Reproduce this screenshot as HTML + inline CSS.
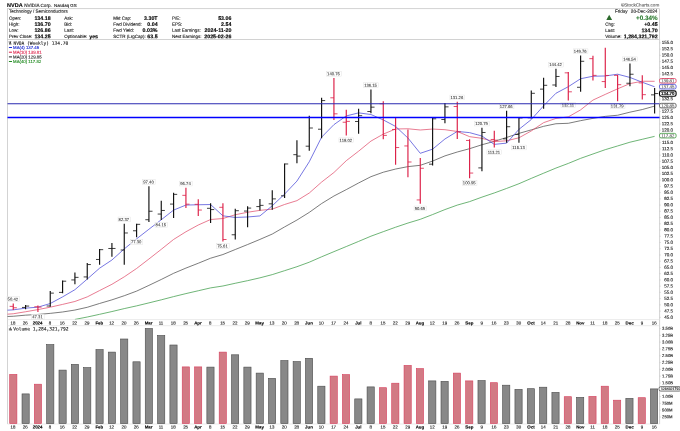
<!DOCTYPE html>
<html lang="en"><head><meta charset="utf-8"><title>NVDA NVIDIA Corp. weekly chart</title>
<style>html,body{margin:0;padding:0;background:#fff;}body{width:680px;height:431px;overflow:hidden;}svg{display:block;position:absolute;left:0;top:0;}text{font-family:'Liberation Sans', sans-serif;font-size:4.5px;color:#1a1a1a;fill:currentColor;stroke:currentColor;stroke-width:0.12px;text-rendering:geometricPrecision;}.b{font-weight:bold;}.m{font-family:'DejaVu Sans Mono', 'Liberation Mono', monospace;}</style></head><body>
<svg width="680" height="431" viewBox="0 0 680 431" role="img" aria-label="NVDA weekly price and volume chart">
<rect x="0" y="0" width="680" height="431" fill="#ffffff"/>
<defs><clipPath id="cp"><rect x="7.5" y="39.4" width="652.1" height="280.20000000000005"/></clipPath></defs>
<g fill="none" stroke="#c0c0c0" stroke-width="0.7">
<rect x="7.4" y="8.7" width="652.2" height="30.7"/>
<path d="M7.5 39.4 V424.0 M659.6 39.4 V424.0"/>
<path d="M7.5 319.6 H659.6 M7.5 325.7 H659.6 M7.5 424 H659.6" stroke="#e2e2e2"/>
</g>
<text x="7.1" y="6.9" transform="rotate(0.03 7.1 6.9)" class="b" style="font-size:5.5px;color:#000">NVDA</text>
<text x="24.2" y="6.9" transform="rotate(0.03 24.2 6.9)" style="font-size:4.6px">NVIDIA Corp.</text>
<text x="54" y="6.9" transform="rotate(0.03 54 6.9)" style="font-size:4.4px">Nasdaq GS</text>
<text x="620.9" y="6.4" transform="rotate(0.03 620.9 6.4)" style="font-size:4.6px;color:#666">©StockCharts.com</text>
<text x="8.9" y="12.7" transform="rotate(0.03 8.9 12.7)">Technology / Semiconductors</text>
<text x="8.9" y="19.7" transform="rotate(0.03 8.9 19.7)">Open:</text>
<text x="50.6" y="20" transform="rotate(0.03 50.6 20)" class="b" text-anchor="end" style="font-size:5.3px;color:#000">134.18</text>
<text x="8.9" y="25.7" transform="rotate(0.03 8.9 25.7)">High:</text>
<text x="50.6" y="26" transform="rotate(0.03 50.6 26)" class="b" text-anchor="end" style="font-size:5.3px;color:#000">136.70</text>
<text x="8.9" y="31.8" transform="rotate(0.03 8.9 31.8)">Low:</text>
<text x="50.6" y="32.1" transform="rotate(0.03 50.6 32.1)" class="b" text-anchor="end" style="font-size:5.3px;color:#000">126.86</text>
<text x="8.9" y="38" transform="rotate(0.03 8.9 38)">Prev Close:</text>
<text x="50.6" y="38.3" transform="rotate(0.03 50.6 38.3)" class="b" text-anchor="end" style="font-size:5.3px;color:#000">134.25</text>
<text x="64.2" y="19.7" transform="rotate(0.03 64.2 19.7)">Ask:</text>
<text x="64.2" y="25.7" transform="rotate(0.03 64.2 25.7)">Bid:</text>
<text x="64.2" y="31.8" transform="rotate(0.03 64.2 31.8)">Last:</text>
<text x="64.2" y="38" transform="rotate(0.03 64.2 38)">Optionable:</text>
<text x="89.2" y="38.3" transform="rotate(0.03 89.2 38.3)" class="b" style="font-size:5.3px;color:#000">yes</text>
<text x="113.3" y="19.7" transform="rotate(0.03 113.3 19.7)">Mkt Cap:</text>
<text x="157.6" y="20" transform="rotate(0.03 157.6 20)" class="b" text-anchor="end" style="font-size:5.3px;color:#000">3.30T</text>
<text x="113.3" y="25.7" transform="rotate(0.03 113.3 25.7)">Fwd Dividend:</text>
<text x="157.6" y="26" transform="rotate(0.03 157.6 26)" class="b" text-anchor="end" style="font-size:5.3px;color:#000">0.04</text>
<text x="113.3" y="31.8" transform="rotate(0.03 113.3 31.8)">Fwd Yield:</text>
<text x="157.6" y="32.1" transform="rotate(0.03 157.6 32.1)" class="b" text-anchor="end" style="font-size:5.3px;color:#000">0.03%</text>
<text x="113.3" y="38" transform="rotate(0.03 113.3 38)">SCTR (LrgCap):</text>
<text x="157.6" y="38.3" transform="rotate(0.03 157.6 38.3)" class="b" text-anchor="end" style="font-size:5.3px;color:#000">63.5</text>
<text x="171.9" y="19.7" transform="rotate(0.03 171.9 19.7)">P/E:</text>
<text x="231.4" y="20" transform="rotate(0.03 231.4 20)" class="b" text-anchor="end" style="font-size:5.3px;color:#000">53.06</text>
<text x="171.9" y="25.7" transform="rotate(0.03 171.9 25.7)">EPS:</text>
<text x="231.4" y="26" transform="rotate(0.03 231.4 26)" class="b" text-anchor="end" style="font-size:5.3px;color:#000">2.54</text>
<text x="171.9" y="31.8" transform="rotate(0.03 171.9 31.8)">Last Earnings:</text>
<text x="231.4" y="32.1" transform="rotate(0.03 231.4 32.1)" class="b" text-anchor="end" style="font-size:5.3px;color:#000">2024-11-20</text>
<text x="171.9" y="38" transform="rotate(0.03 171.9 38)">Next Earnings:</text>
<text x="231.4" y="38.3" transform="rotate(0.03 231.4 38.3)" class="b" text-anchor="end" style="font-size:5.3px;color:#000">2025-02-26</text>
<text x="614.9" y="12.7" transform="rotate(0.03 614.9 12.7)" style="font-size:4.6px">Friday</text>
<text x="657.4" y="12.7" transform="rotate(0.03 657.4 12.7)" text-anchor="end" style="font-size:4.6px">20-Dec-2024</text>
<path d="M606.3 20.1 L609.2 14.8 L612.1 20.1 Z" fill="#2c6a2c"/>
<text x="657.6" y="20.1" transform="rotate(0.03 657.6 20.1)" class="b" text-anchor="end" style="font-size:6.3px;color:#2e7d32">+0.34%</text>
<text x="605.3" y="25.7" transform="rotate(0.03 605.3 25.7)">Chg:</text>
<text x="657.6" y="26" transform="rotate(0.03 657.6 26)" class="b" text-anchor="end" style="font-size:5.3px;color:#000">+0.45</text>
<text x="605.3" y="32" transform="rotate(0.03 605.3 32)">Last:</text>
<text x="657.6" y="32.3" transform="rotate(0.03 657.6 32.3)" class="b" text-anchor="end" style="font-size:5.3px;color:#000">134.70</text>
<text x="605.3" y="38" transform="rotate(0.03 605.3 38)">Volume:</text>
<text x="657.6" y="38.3" transform="rotate(0.03 657.6 38.3)" class="b" text-anchor="end" style="font-size:5.3px;color:#000">1,284,321,792</text>
<path d="M9 41.3 L9.9 44.6 L10.8 41.3 M10.2 41.3 L11.1 44.6" fill="none" stroke="#222" stroke-width="0.6"/>
<text x="13.4" y="44.7" transform="rotate(0.03 13.4 44.7)" class="m" style="font-size:4.55px">NVDA (Weekly) 134.70</text>
<rect x="8.9" y="47" width="3.1" height="1" fill="#1a2ad0"/>
<text x="13.1" y="49" transform="rotate(0.03 13.1 49)" style="font-size:4.3px;color:#1a2ad0">MA(4) 137.45</text>
<rect x="8.9" y="51.7" width="3.1" height="1" fill="#dc1e46"/>
<text x="13.1" y="53.7" transform="rotate(0.03 13.1 53.7)" style="font-size:4.3px;color:#dc1e46">MA(10) 139.81</text>
<rect x="8.9" y="56.4" width="3.1" height="1" fill="#222222"/>
<text x="13.1" y="58.4" transform="rotate(0.03 13.1 58.4)" style="font-size:4.3px;color:#222222">MA(20) 129.85</text>
<rect x="8.9" y="61" width="3.1" height="1" fill="#228b22"/>
<text x="13.1" y="63" transform="rotate(0.03 13.1 63)" style="font-size:4.3px;color:#228b22">MA(40) 117.82</text>
<g clip-path="url(#cp)" fill="none" stroke-linejoin="round" stroke-width="0.75">
<polyline points="74.92,319.43 87.25,317.03 99.59,314.32 111.92,311.56 124.26,308.6 136.59,305.89 148.92,302.89 161.26,299.83 173.59,296.61 185.93,293.6 198.26,290.75 210.59,287.9 222.93,285.99 235.26,283.28 247.6,280.66 259.93,277.84 272.26,274.62 284.6,270.68 296.93,266.71 309.27,262.19 321.6,256.81 333.93,251.65 346.27,246.54 358.6,241.41 370.94,236.2 383.27,231.68 395.6,227.21 407.94,223.05 420.27,219.32 432.61,214.56 444.94,209.57 457.27,205.1 469.61,201.61 481.94,197.14 494.28,192.96 506.61,188.43 518.94,183.73 531.28,178.38 543.61,173.19 555.95,168.07 568.28,163.43 580.61,158.35 592.95,153.99 605.28,149.66 617.62,145.96 629.95,142.21 642.28,139.29 654.62,136.37" stroke="#3f9c4a"/>
<polyline points="-11.42,317.04 0.92,316.77 13.25,316.25 25.58,315.17 37.92,314.45 50.25,313.36 62.59,311.99 74.92,310.06 87.25,307.29 99.59,303.48 111.92,299.85 124.26,295.72 136.59,291.13 148.92,285.38 161.26,279.47 173.59,273.32 185.93,268.08 198.26,263.25 210.59,258.21 222.93,254.54 235.26,249.52 247.6,244.54 259.93,239.42 272.26,234.06 284.6,226.91 296.93,220.05 309.27,212.39 321.6,203.56 333.93,196.02 346.27,189.61 358.6,182.97 370.94,176.68 383.27,172.23 395.6,169.04 407.94,166.62 420.27,165.32 432.61,161.05 444.94,155.89 457.27,152 469.61,148.68 481.94,144.76 494.28,141.37 506.61,137.44 518.94,133.39 531.28,129.86 543.61,126.32 555.95,123.74 568.28,123.3 580.61,120.67 592.95,118.37 605.28,116.36 617.62,115.24 629.95,112.18 642.28,109.54 654.62,106.12" stroke="#505050"/>
<polyline points="-11.42,315.4 0.92,314.62 13.25,313.78 25.58,311.75 37.92,309.6 50.25,307.18 62.59,304.4 74.92,301.47 87.25,296.89 99.59,290.56 111.92,284.3 124.26,276.83 136.59,268.49 148.92,259 161.26,249.34 173.59,239.46 185.93,231.76 198.26,225.03 210.59,219.53 222.93,218.52 235.26,214.74 247.6,212.25 259.93,210.36 272.26,209.12 284.6,204.47 296.93,200.65 309.27,193.03 321.6,182.08 333.93,172.51 346.27,160.7 358.6,151.19 370.94,141.1 383.27,134.1 395.6,128.97 407.94,128.77 420.27,129.99 432.61,129.06 444.94,129.69 457.27,131.49 469.61,136.65 481.94,138.33 494.28,141.64 506.61,140.77 518.94,137.81 531.28,130.94 543.61,122.65 555.95,118.42 568.28,116.91 580.61,109.86 592.95,100.09 605.28,94.39 617.62,88.84 629.95,83.59 642.28,81.26 654.62,81.29" stroke="#e0506e"/>
<polyline points="-11.42,310.26 0.92,310.52 13.25,309.87 25.58,308.15 37.92,307.16 50.25,303.53 62.59,296.88 74.92,289.7 87.25,279.06 99.59,268.19 111.92,260.01 124.26,248.91 136.59,238.86 148.92,229.25 161.26,219.75 173.59,210.1 185.93,205.06 198.26,204.76 210.59,204.54 222.93,215.83 235.26,217.46 247.6,216.98 259.93,215.92 272.26,205.77 284.6,194.08 296.93,181.09 309.27,161.74 321.6,137.17 333.93,124.63 346.27,115.95 358.6,112.87 370.94,114.52 383.27,119.91 395.6,126.45 407.94,138.02 420.27,153.3 432.61,149.15 444.94,138.98 457.27,131.43 469.61,132.63 481.94,136.04 494.28,144.38 506.61,143.12 518.94,129.34 531.28,119.55 543.61,105.82 555.95,93.26 568.28,86.72 580.61,78.72 592.95,76.24 605.28,75.98 617.62,74.21 629.95,77.44 642.28,82.26 654.62,86.79" stroke="#4a4ad8"/>
</g>
<path d="M13.25 303.38 V310.07 M37.92 305.55 V312.04 M185.93 187.81 V208.02 M198.26 199.14 V216 M222.93 203.13 V241.43 M333.93 77.98 V119.95 M346.27 109.82 V135.62 M383.27 101.33 V139.16 M395.6 117.8 V164.86 M407.94 129.53 V177.33 M420.27 157.97 V203.8 M457.27 101.68 V138.91 M469.61 139.26 V178.2 M494.28 130.77 V147.62 M568.28 72.04 V100.46 M592.95 55.8 V80.58 M605.28 47.71 V87.89 M617.62 74.76 V101.26 M642.28 75.33 V99.39" stroke="#dc1e46" stroke-width="1.15" fill="none"/>
<path d="M25.58 304.92 V309.32 M50.25 291.08 V306.7 M62.59 280.47 V293.35 M74.92 272.49 V284.37 M87.25 263.01 V279.38 M99.59 249.04 V264.66 M111.92 243.05 V256.67 M124.26 223.66 V264.78 M136.59 223.84 V237.21 M148.92 186.16 V221.94 M161.26 200.63 V220.12 M173.59 192.7 V218 M210.59 203.13 V222.99 M235.26 208.87 V239.46 M247.6 206.37 V227.23 M259.93 198.89 V210.52 M272.26 190.15 V209.77 M284.6 163.51 V198.04 M296.93 140.25 V163.36 M309.27 115.8 V150.63 M321.6 97.74 V138.16 M358.6 108.82 V133.67 M370.94 89.48 V113.21 M432.61 117.3 V165.6 M444.94 102.95 V123.19 M481.94 127.8 V171.34 M506.61 110.66 V142.65 M518.94 117.3 V142.83 M531.28 90.6 V118.45 M543.61 77.65 V108.87 M555.95 68.85 V87.11 M580.61 55.52 V91.83 M629.95 63.56 V86.21 M654.62 88.11 V113.56" stroke="#111111" stroke-width="1.15" fill="none"/>
<path d="M9.65 306.37 H13.25 M13.25 307.79 H16.85 M34.32 306.77 H37.92 M37.92 307.12 H41.52 M182.33 195.34 H185.93 M185.93 204.18 H189.53 M194.66 204.33 H198.26 M198.26 210.04 H201.86 M219.33 207.32 H222.93 M222.93 239.51 H226.53 M330.33 97.81 H333.93 M333.93 113.83 H337.53 M342.67 122.24 H346.27 M346.27 121.39 H349.87 M379.67 103.78 H383.27 M383.27 135.39 H386.87 M392 129.48 H395.6 M395.6 147.54 H399.2 M404.34 145.94 H407.94 M407.94 161.99 H411.54 M416.67 199.94 H420.27 M420.27 168.27 H423.87 M453.67 106.52 H457.27 M457.27 131.8 H460.87 M466.01 140.45 H469.61 M469.61 173.06 H473.21 M490.68 139.46 H494.28 M494.28 140.21 H497.88 M564.68 72.84 H568.28 M568.28 91.8 H571.88 M589.35 58.67 H592.95 M592.95 75.38 H596.55 M601.68 81.57 H605.28 M605.28 75.46 H608.88 M614.02 75.36 H617.62 M617.62 84.69 H621.22 M638.68 82.89 H642.28 M642.28 94.67 H645.88" stroke="#dc1e46" stroke-width="0.8" fill="none"/>
<path d="M21.98 307.44 H25.58 M25.58 306.07 H29.18 M46.65 306 H50.25 M50.25 293.12 H53.85 M58.99 292.4 H62.59 M62.59 281.2 H66.19 M71.32 279.93 H74.92 M74.92 277.36 H78.52 M83.65 276.93 H87.25 M87.25 264.56 H90.85 M95.99 259.47 H99.59 M99.59 249.66 H103.19 M108.32 248.49 H111.92 M111.92 248.46 H115.52 M120.66 249.99 H124.26 M124.26 232.97 H127.86 M132.99 230.77 H136.59 M136.59 224.34 H140.19 M145.32 219.72 H148.92 M148.92 211.24 H152.52 M157.66 214.06 H161.26 M161.26 210.46 H164.86 M169.99 204.08 H173.59 M173.59 194.37 H177.19 M206.99 208.32 H210.59 M210.59 209.59 H214.19 M231.66 234.77 H235.26 M235.26 210.71 H238.86 M244 211.06 H247.6 M247.6 208.09 H251.2 M256.33 206.57 H259.93 M259.93 205.37 H263.53 M268.66 203.83 H272.26 M272.26 198.89 H275.86 M281 195.84 H284.6 M284.6 163.98 H288.2 M293.33 154.68 H296.93 M296.93 156.1 H300.53 M305.67 146.19 H309.27 M309.27 128 H312.87 M318 129.23 H321.6 M321.6 100.58 H325.2 M355 121.49 H358.6 M358.6 115.68 H362.2 M367.34 111.51 H370.94 M370.94 107.17 H374.54 M429.01 164.16 H432.61 M432.61 118.8 H436.21 M441.34 119.5 H444.94 M444.94 106.85 H448.54 M478.34 167.9 H481.94 M481.94 132.47 H485.54 M503.01 138.83 H506.61 M506.61 126.73 H510.21 M515.34 134.47 H518.94 M518.94 117.95 H522.54 M527.68 117.77 H531.28 M531.28 93.3 H534.88 M540.01 89.13 H543.61 M543.61 85.31 H547.21 M552.35 84.99 H555.95 M555.95 76.48 H559.55 M577.01 87.29 H580.61 M580.61 61.29 H584.21 M626.35 83.24 H629.95 M629.95 74.24 H633.55 M651.02 94.85 H654.62 M654.62 93.55 H658.22" stroke="#111111" stroke-width="0.8" fill="none"/>
<rect x="7.03" y="296.73" width="12.45" height="4.8" fill="#ffffff" fill-opacity="0.92" stroke="#dddddd" stroke-width="0.4"/>
<text x="12.85" y="300.63" transform="rotate(0.03 12.85 300.63)" text-anchor="middle" style="font-size:4.2px;color:#222;stroke-width:0.04px">50.42</text>
<rect x="31.69" y="314.29" width="12.45" height="4.8" fill="#ffffff" fill-opacity="0.92" stroke="#dddddd" stroke-width="0.4"/>
<text x="37.52" y="318.19" transform="rotate(0.03 37.52 318.19)" text-anchor="middle" style="font-size:4.2px;color:#222;stroke-width:0.04px">47.31</text>
<rect x="118.03" y="217.01" width="12.45" height="4.8" fill="#ffffff" fill-opacity="0.92" stroke="#dddddd" stroke-width="0.4"/>
<text x="123.86" y="220.91" transform="rotate(0.03 123.86 220.91)" text-anchor="middle" style="font-size:4.2px;color:#222;stroke-width:0.04px">82.37</text>
<rect x="130.37" y="239.46" width="12.45" height="4.8" fill="#ffffff" fill-opacity="0.92" stroke="#dddddd" stroke-width="0.4"/>
<text x="136.19" y="243.36" transform="rotate(0.03 136.19 243.36)" text-anchor="middle" style="font-size:4.2px;color:#222;stroke-width:0.04px">77.30</text>
<rect x="142.7" y="179.51" width="12.45" height="4.8" fill="#ffffff" fill-opacity="0.92" stroke="#dddddd" stroke-width="0.4"/>
<text x="148.52" y="183.41" transform="rotate(0.03 148.52 183.41)" text-anchor="middle" style="font-size:4.2px;color:#222;stroke-width:0.04px">97.40</text>
<rect x="155.03" y="222.37" width="12.45" height="4.8" fill="#ffffff" fill-opacity="0.92" stroke="#dddddd" stroke-width="0.4"/>
<text x="160.86" y="226.27" transform="rotate(0.03 160.86 226.27)" text-anchor="middle" style="font-size:4.2px;color:#222;stroke-width:0.04px">84.15</text>
<rect x="179.7" y="181.16" width="12.45" height="4.8" fill="#ffffff" fill-opacity="0.92" stroke="#dddddd" stroke-width="0.4"/>
<text x="185.53" y="185.06" transform="rotate(0.03 185.53 185.06)" text-anchor="middle" style="font-size:4.2px;color:#222;stroke-width:0.04px">96.74</text>
<rect x="216.7" y="243.68" width="12.45" height="4.8" fill="#ffffff" fill-opacity="0.92" stroke="#dddddd" stroke-width="0.4"/>
<text x="222.53" y="247.58" transform="rotate(0.03 222.53 247.58)" text-anchor="middle" style="font-size:4.2px;color:#222;stroke-width:0.04px">75.61</text>
<rect x="326.58" y="71.33" width="14.7" height="4.8" fill="#ffffff" fill-opacity="0.92" stroke="#dddddd" stroke-width="0.4"/>
<text x="333.53" y="75.23" transform="rotate(0.03 333.53 75.23)" text-anchor="middle" style="font-size:4.2px;color:#222;stroke-width:0.04px">140.76</text>
<rect x="338.92" y="137.87" width="14.7" height="4.8" fill="#ffffff" fill-opacity="0.92" stroke="#dddddd" stroke-width="0.4"/>
<text x="345.87" y="141.77" transform="rotate(0.03 345.87 141.77)" text-anchor="middle" style="font-size:4.2px;color:#222;stroke-width:0.04px">118.02</text>
<rect x="363.59" y="82.83" width="14.7" height="4.8" fill="#ffffff" fill-opacity="0.92" stroke="#dddddd" stroke-width="0.4"/>
<text x="370.54" y="86.73" transform="rotate(0.03 370.54 86.73)" text-anchor="middle" style="font-size:4.2px;color:#222;stroke-width:0.04px">136.15</text>
<rect x="414.05" y="206.05" width="12.45" height="4.8" fill="#ffffff" fill-opacity="0.92" stroke="#dddddd" stroke-width="0.4"/>
<text x="419.87" y="209.95" transform="rotate(0.03 419.87 209.95)" text-anchor="middle" style="font-size:4.2px;color:#222;stroke-width:0.04px">90.69</text>
<rect x="449.92" y="95.03" width="14.7" height="4.8" fill="#ffffff" fill-opacity="0.92" stroke="#dddddd" stroke-width="0.4"/>
<text x="456.87" y="98.93" transform="rotate(0.03 456.87 98.93)" text-anchor="middle" style="font-size:4.2px;color:#222;stroke-width:0.04px">131.26</text>
<rect x="462.26" y="180.45" width="14.7" height="4.8" fill="#ffffff" fill-opacity="0.92" stroke="#dddddd" stroke-width="0.4"/>
<text x="469.21" y="184.35" transform="rotate(0.03 469.21 184.35)" text-anchor="middle" style="font-size:4.2px;color:#222;stroke-width:0.04px">100.95</text>
<rect x="474.59" y="121.15" width="14.7" height="4.8" fill="#ffffff" fill-opacity="0.92" stroke="#dddddd" stroke-width="0.4"/>
<text x="481.54" y="125.05" transform="rotate(0.03 481.54 125.05)" text-anchor="middle" style="font-size:4.2px;color:#222;stroke-width:0.04px">120.79</text>
<rect x="486.93" y="149.87" width="14.7" height="4.8" fill="#ffffff" fill-opacity="0.92" stroke="#dddddd" stroke-width="0.4"/>
<text x="493.88" y="153.77" transform="rotate(0.03 493.88 153.77)" text-anchor="middle" style="font-size:4.2px;color:#222;stroke-width:0.04px">113.21</text>
<rect x="499.26" y="104.01" width="14.7" height="4.8" fill="#ffffff" fill-opacity="0.92" stroke="#dddddd" stroke-width="0.4"/>
<text x="506.21" y="107.91" transform="rotate(0.03 506.21 107.91)" text-anchor="middle" style="font-size:4.2px;color:#222;stroke-width:0.04px">127.66</text>
<rect x="511.59" y="145.08" width="14.7" height="4.8" fill="#ffffff" fill-opacity="0.92" stroke="#dddddd" stroke-width="0.4"/>
<text x="518.54" y="148.98" transform="rotate(0.03 518.54 148.98)" text-anchor="middle" style="font-size:4.2px;color:#222;stroke-width:0.04px">115.13</text>
<rect x="548.6" y="62.2" width="14.7" height="4.8" fill="#ffffff" fill-opacity="0.92" stroke="#dddddd" stroke-width="0.4"/>
<text x="555.55" y="66.1" transform="rotate(0.03 555.55 66.1)" text-anchor="middle" style="font-size:4.2px;color:#222;stroke-width:0.04px">144.42</text>
<rect x="560.93" y="102.71" width="14.7" height="4.8" fill="#ffffff" fill-opacity="0.92" stroke="#dddddd" stroke-width="0.4"/>
<text x="567.88" y="106.61" transform="rotate(0.03 567.88 106.61)" text-anchor="middle" style="font-size:4.2px;color:#222;stroke-width:0.04px">132.11</text>
<rect x="573.26" y="48.87" width="14.7" height="4.8" fill="#ffffff" fill-opacity="0.92" stroke="#dddddd" stroke-width="0.4"/>
<text x="580.21" y="52.77" transform="rotate(0.03 580.21 52.77)" text-anchor="middle" style="font-size:4.2px;color:#222;stroke-width:0.04px">149.76</text>
<rect x="610.27" y="103.51" width="14.7" height="4.8" fill="#ffffff" fill-opacity="0.92" stroke="#dddddd" stroke-width="0.4"/>
<text x="617.22" y="107.41" transform="rotate(0.03 617.22 107.41)" text-anchor="middle" style="font-size:4.2px;color:#222;stroke-width:0.04px">131.79</text>
<rect x="622.6" y="56.91" width="14.7" height="4.8" fill="#ffffff" fill-opacity="0.92" stroke="#dddddd" stroke-width="0.4"/>
<text x="629.55" y="60.81" transform="rotate(0.03 629.55 60.81)" text-anchor="middle" style="font-size:4.2px;color:#222;stroke-width:0.04px">146.54</text>
<path d="M7.5 103.75 H659.6" stroke="#2a2ab0" stroke-width="1.15" fill="none"/>
<path d="M7.5 117.6 H659.6" stroke="#0000ff" stroke-width="1.5" fill="none"/>
<path d="M659.6 317.35 h1.2" stroke="#bbb" stroke-width="0.5"/>
<text x="673" y="318.72" transform="rotate(0.03 673 318.72)" text-anchor="end" style="font-size:4.5px">45.0</text>
<path d="M659.6 311.11 h1.2" stroke="#bbb" stroke-width="0.5"/>
<text x="673" y="312.48" transform="rotate(0.03 673 312.48)" text-anchor="end" style="font-size:4.5px">47.5</text>
<path d="M659.6 304.88 h1.2" stroke="#bbb" stroke-width="0.5"/>
<text x="673" y="306.24" transform="rotate(0.03 673 306.24)" text-anchor="end" style="font-size:4.5px">50.0</text>
<path d="M659.6 298.64 h1.2" stroke="#bbb" stroke-width="0.5"/>
<text x="673" y="299.99" transform="rotate(0.03 673 299.99)" text-anchor="end" style="font-size:4.5px">52.5</text>
<path d="M659.6 292.4 h1.2" stroke="#bbb" stroke-width="0.5"/>
<text x="673" y="293.75" transform="rotate(0.03 673 293.75)" text-anchor="end" style="font-size:4.5px">55.0</text>
<path d="M659.6 286.16 h1.2" stroke="#bbb" stroke-width="0.5"/>
<text x="673" y="287.51" transform="rotate(0.03 673 287.51)" text-anchor="end" style="font-size:4.5px">57.5</text>
<path d="M659.6 279.93 h1.2" stroke="#bbb" stroke-width="0.5"/>
<text x="673" y="281.26" transform="rotate(0.03 673 281.26)" text-anchor="end" style="font-size:4.5px">60.0</text>
<path d="M659.6 273.69 h1.2" stroke="#bbb" stroke-width="0.5"/>
<text x="673" y="275.02" transform="rotate(0.03 673 275.02)" text-anchor="end" style="font-size:4.5px">62.5</text>
<path d="M659.6 267.45 h1.2" stroke="#bbb" stroke-width="0.5"/>
<text x="673" y="268.78" transform="rotate(0.03 673 268.78)" text-anchor="end" style="font-size:4.5px">65.0</text>
<path d="M659.6 261.21 h1.2" stroke="#bbb" stroke-width="0.5"/>
<text x="673" y="262.54" transform="rotate(0.03 673 262.54)" text-anchor="end" style="font-size:4.5px">67.5</text>
<path d="M659.6 254.98 h1.2" stroke="#bbb" stroke-width="0.5"/>
<text x="673" y="256.3" transform="rotate(0.03 673 256.3)" text-anchor="end" style="font-size:4.5px">70.0</text>
<path d="M659.6 248.74 h1.2" stroke="#bbb" stroke-width="0.5"/>
<text x="673" y="250.05" transform="rotate(0.03 673 250.05)" text-anchor="end" style="font-size:4.5px">72.5</text>
<path d="M659.6 242.5 h1.2" stroke="#bbb" stroke-width="0.5"/>
<text x="673" y="243.81" transform="rotate(0.03 673 243.81)" text-anchor="end" style="font-size:4.5px">75.0</text>
<path d="M659.6 236.26 h1.2" stroke="#bbb" stroke-width="0.5"/>
<text x="673" y="237.57" transform="rotate(0.03 673 237.57)" text-anchor="end" style="font-size:4.5px">77.5</text>
<path d="M659.6 230.03 h1.2" stroke="#bbb" stroke-width="0.5"/>
<text x="673" y="231.32" transform="rotate(0.03 673 231.32)" text-anchor="end" style="font-size:4.5px">80.0</text>
<path d="M659.6 223.79 h1.2" stroke="#bbb" stroke-width="0.5"/>
<text x="673" y="225.08" transform="rotate(0.03 673 225.08)" text-anchor="end" style="font-size:4.5px">82.5</text>
<path d="M659.6 217.55 h1.2" stroke="#bbb" stroke-width="0.5"/>
<text x="673" y="218.84" transform="rotate(0.03 673 218.84)" text-anchor="end" style="font-size:4.5px">85.0</text>
<path d="M659.6 211.31 h1.2" stroke="#bbb" stroke-width="0.5"/>
<text x="673" y="212.6" transform="rotate(0.03 673 212.6)" text-anchor="end" style="font-size:4.5px">87.5</text>
<path d="M659.6 205.08 h1.2" stroke="#bbb" stroke-width="0.5"/>
<text x="673" y="206.36" transform="rotate(0.03 673 206.36)" text-anchor="end" style="font-size:4.5px">90.0</text>
<path d="M659.6 198.84 h1.2" stroke="#bbb" stroke-width="0.5"/>
<text x="673" y="200.11" transform="rotate(0.03 673 200.11)" text-anchor="end" style="font-size:4.5px">92.5</text>
<path d="M659.6 192.6 h1.2" stroke="#bbb" stroke-width="0.5"/>
<text x="673" y="193.87" transform="rotate(0.03 673 193.87)" text-anchor="end" style="font-size:4.5px">95.0</text>
<path d="M659.6 186.36 h1.2" stroke="#bbb" stroke-width="0.5"/>
<text x="673" y="187.63" transform="rotate(0.03 673 187.63)" text-anchor="end" style="font-size:4.5px">97.5</text>
<path d="M659.6 180.12 h1.2" stroke="#bbb" stroke-width="0.5"/>
<text x="673" y="181.38" transform="rotate(0.03 673 181.38)" text-anchor="end" style="font-size:4.5px">100.0</text>
<path d="M659.6 173.89 h1.2" stroke="#bbb" stroke-width="0.5"/>
<text x="673" y="175.14" transform="rotate(0.03 673 175.14)" text-anchor="end" style="font-size:4.5px">102.5</text>
<path d="M659.6 167.65 h1.2" stroke="#bbb" stroke-width="0.5"/>
<text x="673" y="168.9" transform="rotate(0.03 673 168.9)" text-anchor="end" style="font-size:4.5px">105.0</text>
<path d="M659.6 161.41 h1.2" stroke="#bbb" stroke-width="0.5"/>
<text x="673" y="162.66" transform="rotate(0.03 673 162.66)" text-anchor="end" style="font-size:4.5px">107.5</text>
<path d="M659.6 155.18 h1.2" stroke="#bbb" stroke-width="0.5"/>
<text x="673" y="156.41" transform="rotate(0.03 673 156.41)" text-anchor="end" style="font-size:4.5px">110.0</text>
<path d="M659.6 148.94 h1.2" stroke="#bbb" stroke-width="0.5"/>
<text x="673" y="150.17" transform="rotate(0.03 673 150.17)" text-anchor="end" style="font-size:4.5px">112.5</text>
<path d="M659.6 142.7 h1.2" stroke="#bbb" stroke-width="0.5"/>
<text x="673" y="143.93" transform="rotate(0.03 673 143.93)" text-anchor="end" style="font-size:4.5px">115.0</text>
<path d="M659.6 136.46 h1.2" stroke="#bbb" stroke-width="0.5"/>
<text x="673" y="137.69" transform="rotate(0.03 673 137.69)" text-anchor="end" style="font-size:4.5px">117.5</text>
<path d="M659.6 130.22 h1.2" stroke="#bbb" stroke-width="0.5"/>
<text x="673" y="131.44" transform="rotate(0.03 673 131.44)" text-anchor="end" style="font-size:4.5px">120.0</text>
<path d="M659.6 123.99 h1.2" stroke="#bbb" stroke-width="0.5"/>
<text x="673" y="125.2" transform="rotate(0.03 673 125.2)" text-anchor="end" style="font-size:4.5px">122.5</text>
<path d="M659.6 117.75 h1.2" stroke="#bbb" stroke-width="0.5"/>
<text x="673" y="118.96" transform="rotate(0.03 673 118.96)" text-anchor="end" style="font-size:4.5px">125.0</text>
<path d="M659.6 111.51 h1.2" stroke="#bbb" stroke-width="0.5"/>
<text x="673" y="112.72" transform="rotate(0.03 673 112.72)" text-anchor="end" style="font-size:4.5px">127.5</text>
<path d="M659.6 105.28 h1.2" stroke="#bbb" stroke-width="0.5"/>
<text x="673" y="106.47" transform="rotate(0.03 673 106.47)" text-anchor="end" style="font-size:4.5px">130.0</text>
<path d="M659.6 99.04 h1.2" stroke="#bbb" stroke-width="0.5"/>
<text x="673" y="100.23" transform="rotate(0.03 673 100.23)" text-anchor="end" style="font-size:4.5px">132.5</text>
<path d="M659.6 92.8 h1.2" stroke="#bbb" stroke-width="0.5"/>
<text x="673" y="93.99" transform="rotate(0.03 673 93.99)" text-anchor="end" style="font-size:4.5px">135.0</text>
<path d="M659.6 86.56 h1.2" stroke="#bbb" stroke-width="0.5"/>
<text x="673" y="87.75" transform="rotate(0.03 673 87.75)" text-anchor="end" style="font-size:4.5px">137.5</text>
<path d="M659.6 80.33 h1.2" stroke="#bbb" stroke-width="0.5"/>
<text x="673" y="81.5" transform="rotate(0.03 673 81.5)" text-anchor="end" style="font-size:4.5px">140.0</text>
<path d="M659.6 74.09 h1.2" stroke="#bbb" stroke-width="0.5"/>
<text x="673" y="75.26" transform="rotate(0.03 673 75.26)" text-anchor="end" style="font-size:4.5px">142.5</text>
<path d="M659.6 67.85 h1.2" stroke="#bbb" stroke-width="0.5"/>
<text x="673" y="69.02" transform="rotate(0.03 673 69.02)" text-anchor="end" style="font-size:4.5px">145.0</text>
<path d="M659.6 61.61 h1.2" stroke="#bbb" stroke-width="0.5"/>
<text x="673" y="62.78" transform="rotate(0.03 673 62.78)" text-anchor="end" style="font-size:4.5px">147.5</text>
<path d="M659.6 55.38 h1.2" stroke="#bbb" stroke-width="0.5"/>
<text x="673" y="56.53" transform="rotate(0.03 673 56.53)" text-anchor="end" style="font-size:4.5px">150.0</text>
<path d="M659.6 49.14 h1.2" stroke="#bbb" stroke-width="0.5"/>
<text x="673" y="50.29" transform="rotate(0.03 673 50.29)" text-anchor="end" style="font-size:4.5px">152.5</text>
<path d="M659.6 42.9 h1.2" stroke="#bbb" stroke-width="0.5"/>
<text x="673" y="44.05" transform="rotate(0.03 673 44.05)" text-anchor="end" style="font-size:4.5px">155.0</text>
<rect x="659.5" y="78.5" width="16.6" height="4.6" rx="1.7" ry="1.7" fill="#fff" stroke="#dc1e46" stroke-width="0.7"/>
<text x="667.8" y="82.35" transform="rotate(0.03 667.8 82.35)" text-anchor="middle"  style="font-size:4.4px;color:#333;stroke-width:0.03px">139.81</text>
<rect x="659.5" y="84.39" width="16.6" height="4.6" rx="1.7" ry="1.7" fill="#fff" stroke="#2a2fd0" stroke-width="0.7"/>
<text x="667.8" y="88.24" transform="rotate(0.03 667.8 88.24)" text-anchor="middle"  style="font-size:4.4px;color:#333;stroke-width:0.03px">137.45</text>
<rect x="659.5" y="103.35" width="16.6" height="4.6" rx="1.7" ry="1.7" fill="#fff" stroke="#333333" stroke-width="0.7"/>
<text x="667.8" y="107.2" transform="rotate(0.03 667.8 107.2)" text-anchor="middle"  style="font-size:4.4px;color:#333;stroke-width:0.03px">129.85</text>
<rect x="659.5" y="133.36" width="16.6" height="4.6" rx="1.7" ry="1.7" fill="#fff" stroke="#228b22" stroke-width="0.7"/>
<text x="667.8" y="137.21" transform="rotate(0.03 667.8 137.21)" text-anchor="middle"  style="font-size:4.4px;color:#333;stroke-width:0.03px">117.82</text>
<rect x="659.5" y="90.85" width="16.6" height="5.4" rx="1.7" ry="1.7" fill="#fff" stroke="#000000" stroke-width="1.1"/>
<text x="667.8" y="95.1" transform="rotate(0.03 667.8 95.1)" text-anchor="middle" class="b" style="font-size:4.4px;color:#000;stroke-width:0.12px">134.70</text>
<text x="12.95" y="324.5" transform="rotate(0.03 12.95 324.5)" text-anchor="middle"  style="font-size:4.4px;color:#1a1a1a">18</text>
<text x="25.28" y="324.5" transform="rotate(0.03 25.28 324.5)" text-anchor="middle"  style="font-size:4.4px;color:#1a1a1a">26</text>
<text x="37.62" y="324.5" transform="rotate(0.03 37.62 324.5)" text-anchor="middle" class="b" style="font-size:4.4px;color:#000">2024</text>
<text x="49.95" y="324.5" transform="rotate(0.03 49.95 324.5)" text-anchor="middle"  style="font-size:4.4px;color:#1a1a1a">8</text>
<text x="62.29" y="324.5" transform="rotate(0.03 62.29 324.5)" text-anchor="middle"  style="font-size:4.4px;color:#1a1a1a">16</text>
<text x="74.62" y="324.5" transform="rotate(0.03 74.62 324.5)" text-anchor="middle"  style="font-size:4.4px;color:#1a1a1a">22</text>
<text x="86.95" y="324.5" transform="rotate(0.03 86.95 324.5)" text-anchor="middle"  style="font-size:4.4px;color:#1a1a1a">29</text>
<text x="99.29" y="324.5" transform="rotate(0.03 99.29 324.5)" text-anchor="middle" class="b" style="font-size:4.4px;color:#000">Feb</text>
<text x="111.62" y="324.5" transform="rotate(0.03 111.62 324.5)" text-anchor="middle"  style="font-size:4.4px;color:#1a1a1a">12</text>
<text x="123.96" y="324.5" transform="rotate(0.03 123.96 324.5)" text-anchor="middle"  style="font-size:4.4px;color:#1a1a1a">20</text>
<text x="136.29" y="324.5" transform="rotate(0.03 136.29 324.5)" text-anchor="middle"  style="font-size:4.4px;color:#1a1a1a">26</text>
<text x="148.62" y="324.5" transform="rotate(0.03 148.62 324.5)" text-anchor="middle" class="b" style="font-size:4.4px;color:#000">Mar</text>
<text x="160.96" y="324.5" transform="rotate(0.03 160.96 324.5)" text-anchor="middle"  style="font-size:4.4px;color:#1a1a1a">11</text>
<text x="173.29" y="324.5" transform="rotate(0.03 173.29 324.5)" text-anchor="middle"  style="font-size:4.4px;color:#1a1a1a">18</text>
<text x="185.63" y="324.5" transform="rotate(0.03 185.63 324.5)" text-anchor="middle"  style="font-size:4.4px;color:#1a1a1a">25</text>
<text x="197.96" y="324.5" transform="rotate(0.03 197.96 324.5)" text-anchor="middle" class="b" style="font-size:4.4px;color:#000">Apr</text>
<text x="210.29" y="324.5" transform="rotate(0.03 210.29 324.5)" text-anchor="middle"  style="font-size:4.4px;color:#1a1a1a">8</text>
<text x="222.63" y="324.5" transform="rotate(0.03 222.63 324.5)" text-anchor="middle"  style="font-size:4.4px;color:#1a1a1a">15</text>
<text x="234.96" y="324.5" transform="rotate(0.03 234.96 324.5)" text-anchor="middle"  style="font-size:4.4px;color:#1a1a1a">22</text>
<text x="247.3" y="324.5" transform="rotate(0.03 247.3 324.5)" text-anchor="middle"  style="font-size:4.4px;color:#1a1a1a">29</text>
<text x="259.63" y="324.5" transform="rotate(0.03 259.63 324.5)" text-anchor="middle" class="b" style="font-size:4.4px;color:#000">May</text>
<text x="271.96" y="324.5" transform="rotate(0.03 271.96 324.5)" text-anchor="middle"  style="font-size:4.4px;color:#1a1a1a">13</text>
<text x="284.3" y="324.5" transform="rotate(0.03 284.3 324.5)" text-anchor="middle"  style="font-size:4.4px;color:#1a1a1a">20</text>
<text x="296.63" y="324.5" transform="rotate(0.03 296.63 324.5)" text-anchor="middle"  style="font-size:4.4px;color:#1a1a1a">28</text>
<text x="308.97" y="324.5" transform="rotate(0.03 308.97 324.5)" text-anchor="middle" class="b" style="font-size:4.4px;color:#000">Jun</text>
<text x="321.3" y="324.5" transform="rotate(0.03 321.3 324.5)" text-anchor="middle"  style="font-size:4.4px;color:#1a1a1a">10</text>
<text x="333.63" y="324.5" transform="rotate(0.03 333.63 324.5)" text-anchor="middle"  style="font-size:4.4px;color:#1a1a1a">17</text>
<text x="345.97" y="324.5" transform="rotate(0.03 345.97 324.5)" text-anchor="middle"  style="font-size:4.4px;color:#1a1a1a">24</text>
<text x="358.3" y="324.5" transform="rotate(0.03 358.3 324.5)" text-anchor="middle" class="b" style="font-size:4.4px;color:#000">Jul</text>
<text x="370.64" y="324.5" transform="rotate(0.03 370.64 324.5)" text-anchor="middle"  style="font-size:4.4px;color:#1a1a1a">8</text>
<text x="382.97" y="324.5" transform="rotate(0.03 382.97 324.5)" text-anchor="middle"  style="font-size:4.4px;color:#1a1a1a">15</text>
<text x="395.3" y="324.5" transform="rotate(0.03 395.3 324.5)" text-anchor="middle"  style="font-size:4.4px;color:#1a1a1a">22</text>
<text x="407.64" y="324.5" transform="rotate(0.03 407.64 324.5)" text-anchor="middle"  style="font-size:4.4px;color:#1a1a1a">29</text>
<text x="419.97" y="324.5" transform="rotate(0.03 419.97 324.5)" text-anchor="middle" class="b" style="font-size:4.4px;color:#000">Aug</text>
<text x="432.31" y="324.5" transform="rotate(0.03 432.31 324.5)" text-anchor="middle"  style="font-size:4.4px;color:#1a1a1a">12</text>
<text x="444.64" y="324.5" transform="rotate(0.03 444.64 324.5)" text-anchor="middle"  style="font-size:4.4px;color:#1a1a1a">19</text>
<text x="456.97" y="324.5" transform="rotate(0.03 456.97 324.5)" text-anchor="middle"  style="font-size:4.4px;color:#1a1a1a">26</text>
<text x="469.31" y="324.5" transform="rotate(0.03 469.31 324.5)" text-anchor="middle" class="b" style="font-size:4.4px;color:#000">Sep</text>
<text x="481.64" y="324.5" transform="rotate(0.03 481.64 324.5)" text-anchor="middle"  style="font-size:4.4px;color:#1a1a1a">9</text>
<text x="493.98" y="324.5" transform="rotate(0.03 493.98 324.5)" text-anchor="middle"  style="font-size:4.4px;color:#1a1a1a">16</text>
<text x="506.31" y="324.5" transform="rotate(0.03 506.31 324.5)" text-anchor="middle"  style="font-size:4.4px;color:#1a1a1a">23</text>
<text x="518.64" y="324.5" transform="rotate(0.03 518.64 324.5)" text-anchor="middle"  style="font-size:4.4px;color:#1a1a1a">30</text>
<text x="530.98" y="324.5" transform="rotate(0.03 530.98 324.5)" text-anchor="middle" class="b" style="font-size:4.4px;color:#000">Oct</text>
<text x="543.31" y="324.5" transform="rotate(0.03 543.31 324.5)" text-anchor="middle"  style="font-size:4.4px;color:#1a1a1a">14</text>
<text x="555.65" y="324.5" transform="rotate(0.03 555.65 324.5)" text-anchor="middle"  style="font-size:4.4px;color:#1a1a1a">21</text>
<text x="567.98" y="324.5" transform="rotate(0.03 567.98 324.5)" text-anchor="middle"  style="font-size:4.4px;color:#1a1a1a">28</text>
<text x="580.31" y="324.5" transform="rotate(0.03 580.31 324.5)" text-anchor="middle" class="b" style="font-size:4.4px;color:#000">Nov</text>
<text x="592.65" y="324.5" transform="rotate(0.03 592.65 324.5)" text-anchor="middle"  style="font-size:4.4px;color:#1a1a1a">11</text>
<text x="604.98" y="324.5" transform="rotate(0.03 604.98 324.5)" text-anchor="middle"  style="font-size:4.4px;color:#1a1a1a">18</text>
<text x="617.32" y="324.5" transform="rotate(0.03 617.32 324.5)" text-anchor="middle"  style="font-size:4.4px;color:#1a1a1a">25</text>
<text x="629.65" y="324.5" transform="rotate(0.03 629.65 324.5)" text-anchor="middle" class="b" style="font-size:4.4px;color:#000">Dec</text>
<text x="641.98" y="324.5" transform="rotate(0.03 641.98 324.5)" text-anchor="middle"  style="font-size:4.4px;color:#1a1a1a">9</text>
<text x="654.32" y="324.5" transform="rotate(0.03 654.32 324.5)" text-anchor="middle"  style="font-size:4.4px;color:#1a1a1a">16</text>
<text x="12.95" y="428.5" transform="rotate(0.03 12.95 428.5)" text-anchor="middle"  style="font-size:4.4px;color:#1a1a1a">18</text>
<text x="25.28" y="428.5" transform="rotate(0.03 25.28 428.5)" text-anchor="middle"  style="font-size:4.4px;color:#1a1a1a">26</text>
<text x="37.62" y="428.5" transform="rotate(0.03 37.62 428.5)" text-anchor="middle" class="b" style="font-size:4.4px;color:#000">2024</text>
<text x="49.95" y="428.5" transform="rotate(0.03 49.95 428.5)" text-anchor="middle"  style="font-size:4.4px;color:#1a1a1a">8</text>
<text x="62.29" y="428.5" transform="rotate(0.03 62.29 428.5)" text-anchor="middle"  style="font-size:4.4px;color:#1a1a1a">16</text>
<text x="74.62" y="428.5" transform="rotate(0.03 74.62 428.5)" text-anchor="middle"  style="font-size:4.4px;color:#1a1a1a">22</text>
<text x="86.95" y="428.5" transform="rotate(0.03 86.95 428.5)" text-anchor="middle"  style="font-size:4.4px;color:#1a1a1a">29</text>
<text x="99.29" y="428.5" transform="rotate(0.03 99.29 428.5)" text-anchor="middle" class="b" style="font-size:4.4px;color:#000">Feb</text>
<text x="111.62" y="428.5" transform="rotate(0.03 111.62 428.5)" text-anchor="middle"  style="font-size:4.4px;color:#1a1a1a">12</text>
<text x="123.96" y="428.5" transform="rotate(0.03 123.96 428.5)" text-anchor="middle"  style="font-size:4.4px;color:#1a1a1a">20</text>
<text x="136.29" y="428.5" transform="rotate(0.03 136.29 428.5)" text-anchor="middle"  style="font-size:4.4px;color:#1a1a1a">26</text>
<text x="148.62" y="428.5" transform="rotate(0.03 148.62 428.5)" text-anchor="middle" class="b" style="font-size:4.4px;color:#000">Mar</text>
<text x="160.96" y="428.5" transform="rotate(0.03 160.96 428.5)" text-anchor="middle"  style="font-size:4.4px;color:#1a1a1a">11</text>
<text x="173.29" y="428.5" transform="rotate(0.03 173.29 428.5)" text-anchor="middle"  style="font-size:4.4px;color:#1a1a1a">18</text>
<text x="185.63" y="428.5" transform="rotate(0.03 185.63 428.5)" text-anchor="middle"  style="font-size:4.4px;color:#1a1a1a">25</text>
<text x="197.96" y="428.5" transform="rotate(0.03 197.96 428.5)" text-anchor="middle" class="b" style="font-size:4.4px;color:#000">Apr</text>
<text x="210.29" y="428.5" transform="rotate(0.03 210.29 428.5)" text-anchor="middle"  style="font-size:4.4px;color:#1a1a1a">8</text>
<text x="222.63" y="428.5" transform="rotate(0.03 222.63 428.5)" text-anchor="middle"  style="font-size:4.4px;color:#1a1a1a">15</text>
<text x="234.96" y="428.5" transform="rotate(0.03 234.96 428.5)" text-anchor="middle"  style="font-size:4.4px;color:#1a1a1a">22</text>
<text x="247.3" y="428.5" transform="rotate(0.03 247.3 428.5)" text-anchor="middle"  style="font-size:4.4px;color:#1a1a1a">29</text>
<text x="259.63" y="428.5" transform="rotate(0.03 259.63 428.5)" text-anchor="middle" class="b" style="font-size:4.4px;color:#000">May</text>
<text x="271.96" y="428.5" transform="rotate(0.03 271.96 428.5)" text-anchor="middle"  style="font-size:4.4px;color:#1a1a1a">13</text>
<text x="284.3" y="428.5" transform="rotate(0.03 284.3 428.5)" text-anchor="middle"  style="font-size:4.4px;color:#1a1a1a">20</text>
<text x="296.63" y="428.5" transform="rotate(0.03 296.63 428.5)" text-anchor="middle"  style="font-size:4.4px;color:#1a1a1a">28</text>
<text x="308.97" y="428.5" transform="rotate(0.03 308.97 428.5)" text-anchor="middle" class="b" style="font-size:4.4px;color:#000">Jun</text>
<text x="321.3" y="428.5" transform="rotate(0.03 321.3 428.5)" text-anchor="middle"  style="font-size:4.4px;color:#1a1a1a">10</text>
<text x="333.63" y="428.5" transform="rotate(0.03 333.63 428.5)" text-anchor="middle"  style="font-size:4.4px;color:#1a1a1a">17</text>
<text x="345.97" y="428.5" transform="rotate(0.03 345.97 428.5)" text-anchor="middle"  style="font-size:4.4px;color:#1a1a1a">24</text>
<text x="358.3" y="428.5" transform="rotate(0.03 358.3 428.5)" text-anchor="middle" class="b" style="font-size:4.4px;color:#000">Jul</text>
<text x="370.64" y="428.5" transform="rotate(0.03 370.64 428.5)" text-anchor="middle"  style="font-size:4.4px;color:#1a1a1a">8</text>
<text x="382.97" y="428.5" transform="rotate(0.03 382.97 428.5)" text-anchor="middle"  style="font-size:4.4px;color:#1a1a1a">15</text>
<text x="395.3" y="428.5" transform="rotate(0.03 395.3 428.5)" text-anchor="middle"  style="font-size:4.4px;color:#1a1a1a">22</text>
<text x="407.64" y="428.5" transform="rotate(0.03 407.64 428.5)" text-anchor="middle"  style="font-size:4.4px;color:#1a1a1a">29</text>
<text x="419.97" y="428.5" transform="rotate(0.03 419.97 428.5)" text-anchor="middle" class="b" style="font-size:4.4px;color:#000">Aug</text>
<text x="432.31" y="428.5" transform="rotate(0.03 432.31 428.5)" text-anchor="middle"  style="font-size:4.4px;color:#1a1a1a">12</text>
<text x="444.64" y="428.5" transform="rotate(0.03 444.64 428.5)" text-anchor="middle"  style="font-size:4.4px;color:#1a1a1a">19</text>
<text x="456.97" y="428.5" transform="rotate(0.03 456.97 428.5)" text-anchor="middle"  style="font-size:4.4px;color:#1a1a1a">26</text>
<text x="469.31" y="428.5" transform="rotate(0.03 469.31 428.5)" text-anchor="middle" class="b" style="font-size:4.4px;color:#000">Sep</text>
<text x="481.64" y="428.5" transform="rotate(0.03 481.64 428.5)" text-anchor="middle"  style="font-size:4.4px;color:#1a1a1a">9</text>
<text x="493.98" y="428.5" transform="rotate(0.03 493.98 428.5)" text-anchor="middle"  style="font-size:4.4px;color:#1a1a1a">16</text>
<text x="506.31" y="428.5" transform="rotate(0.03 506.31 428.5)" text-anchor="middle"  style="font-size:4.4px;color:#1a1a1a">23</text>
<text x="518.64" y="428.5" transform="rotate(0.03 518.64 428.5)" text-anchor="middle"  style="font-size:4.4px;color:#1a1a1a">30</text>
<text x="530.98" y="428.5" transform="rotate(0.03 530.98 428.5)" text-anchor="middle" class="b" style="font-size:4.4px;color:#000">Oct</text>
<text x="543.31" y="428.5" transform="rotate(0.03 543.31 428.5)" text-anchor="middle"  style="font-size:4.4px;color:#1a1a1a">14</text>
<text x="555.65" y="428.5" transform="rotate(0.03 555.65 428.5)" text-anchor="middle"  style="font-size:4.4px;color:#1a1a1a">21</text>
<text x="567.98" y="428.5" transform="rotate(0.03 567.98 428.5)" text-anchor="middle"  style="font-size:4.4px;color:#1a1a1a">28</text>
<text x="580.31" y="428.5" transform="rotate(0.03 580.31 428.5)" text-anchor="middle" class="b" style="font-size:4.4px;color:#000">Nov</text>
<text x="592.65" y="428.5" transform="rotate(0.03 592.65 428.5)" text-anchor="middle"  style="font-size:4.4px;color:#1a1a1a">11</text>
<text x="604.98" y="428.5" transform="rotate(0.03 604.98 428.5)" text-anchor="middle"  style="font-size:4.4px;color:#1a1a1a">18</text>
<text x="617.32" y="428.5" transform="rotate(0.03 617.32 428.5)" text-anchor="middle"  style="font-size:4.4px;color:#1a1a1a">25</text>
<text x="629.65" y="428.5" transform="rotate(0.03 629.65 428.5)" text-anchor="middle" class="b" style="font-size:4.4px;color:#000">Dec</text>
<text x="641.98" y="428.5" transform="rotate(0.03 641.98 428.5)" text-anchor="middle"  style="font-size:4.4px;color:#1a1a1a">9</text>
<text x="654.32" y="428.5" transform="rotate(0.03 654.32 428.5)" text-anchor="middle"  style="font-size:4.4px;color:#1a1a1a">16</text>
<rect x="9.7" y="374.4" width="7.2" height="49.2" fill="#d27a84" stroke="#d63e5c" stroke-width="0.6"/>
<rect x="22.02" y="393.9" width="7.2" height="29.7" fill="#888888" stroke="#4a4a4a" stroke-width="0.6"/>
<rect x="34.35" y="384.2" width="7.2" height="39.4" fill="#d27a84" stroke="#d63e5c" stroke-width="0.6"/>
<rect x="46.67" y="344.6" width="7.2" height="79" fill="#888888" stroke="#4a4a4a" stroke-width="0.6"/>
<rect x="58.99" y="370.1" width="7.2" height="53.5" fill="#888888" stroke="#4a4a4a" stroke-width="0.6"/>
<rect x="71.32" y="364.4" width="7.2" height="59.2" fill="#888888" stroke="#4a4a4a" stroke-width="0.6"/>
<rect x="83.64" y="367.6" width="7.2" height="56" fill="#888888" stroke="#4a4a4a" stroke-width="0.6"/>
<rect x="95.96" y="349.6" width="7.2" height="74" fill="#888888" stroke="#4a4a4a" stroke-width="0.6"/>
<rect x="108.28" y="352.1" width="7.2" height="71.5" fill="#888888" stroke="#4a4a4a" stroke-width="0.6"/>
<rect x="120.61" y="339" width="7.2" height="84.6" fill="#888888" stroke="#4a4a4a" stroke-width="0.6"/>
<rect x="132.93" y="361.8" width="7.2" height="61.8" fill="#888888" stroke="#4a4a4a" stroke-width="0.6"/>
<rect x="145.25" y="328.5" width="7.2" height="95.1" fill="#888888" stroke="#4a4a4a" stroke-width="0.6"/>
<rect x="157.58" y="335.5" width="7.2" height="88.1" fill="#888888" stroke="#4a4a4a" stroke-width="0.6"/>
<rect x="169.9" y="345" width="7.2" height="78.6" fill="#888888" stroke="#4a4a4a" stroke-width="0.6"/>
<rect x="182.22" y="366.9" width="7.2" height="56.7" fill="#d27a84" stroke="#d63e5c" stroke-width="0.6"/>
<rect x="194.54" y="366.9" width="7.2" height="56.7" fill="#d27a84" stroke="#d63e5c" stroke-width="0.6"/>
<rect x="206.87" y="367.1" width="7.2" height="56.5" fill="#888888" stroke="#4a4a4a" stroke-width="0.6"/>
<rect x="219.19" y="352.1" width="7.2" height="71.5" fill="#d27a84" stroke="#d63e5c" stroke-width="0.6"/>
<rect x="231.51" y="354.8" width="7.2" height="68.8" fill="#888888" stroke="#4a4a4a" stroke-width="0.6"/>
<rect x="243.84" y="367.1" width="7.2" height="56.5" fill="#888888" stroke="#4a4a4a" stroke-width="0.6"/>
<rect x="256.16" y="373.1" width="7.2" height="50.5" fill="#888888" stroke="#4a4a4a" stroke-width="0.6"/>
<rect x="268.48" y="378.4" width="7.2" height="45.2" fill="#888888" stroke="#4a4a4a" stroke-width="0.6"/>
<rect x="280.81" y="360.6" width="7.2" height="63" fill="#888888" stroke="#4a4a4a" stroke-width="0.6"/>
<rect x="293.13" y="361.6" width="7.2" height="62" fill="#888888" stroke="#4a4a4a" stroke-width="0.6"/>
<rect x="305.45" y="358.3" width="7.2" height="65.3" fill="#888888" stroke="#4a4a4a" stroke-width="0.6"/>
<rect x="317.77" y="386.2" width="7.2" height="37.4" fill="#888888" stroke="#4a4a4a" stroke-width="0.6"/>
<rect x="330.1" y="376.1" width="7.2" height="47.5" fill="#d27a84" stroke="#d63e5c" stroke-width="0.6"/>
<rect x="342.42" y="374.6" width="7.2" height="49" fill="#d27a84" stroke="#d63e5c" stroke-width="0.6"/>
<rect x="354.74" y="398.9" width="7.2" height="24.7" fill="#888888" stroke="#4a4a4a" stroke-width="0.6"/>
<rect x="367.07" y="386.9" width="7.2" height="36.7" fill="#888888" stroke="#4a4a4a" stroke-width="0.6"/>
<rect x="379.39" y="387.7" width="7.2" height="35.9" fill="#d27a84" stroke="#d63e5c" stroke-width="0.6"/>
<rect x="391.71" y="383.2" width="7.2" height="40.4" fill="#d27a84" stroke="#d63e5c" stroke-width="0.6"/>
<rect x="404.04" y="365.4" width="7.2" height="58.2" fill="#d27a84" stroke="#d63e5c" stroke-width="0.6"/>
<rect x="416.36" y="368.6" width="7.2" height="55" fill="#d27a84" stroke="#d63e5c" stroke-width="0.6"/>
<rect x="428.68" y="380.9" width="7.2" height="42.7" fill="#888888" stroke="#4a4a4a" stroke-width="0.6"/>
<rect x="441" y="381.4" width="7.2" height="42.2" fill="#888888" stroke="#4a4a4a" stroke-width="0.6"/>
<rect x="453.33" y="373.1" width="7.2" height="50.5" fill="#d27a84" stroke="#d63e5c" stroke-width="0.6"/>
<rect x="465.65" y="380.9" width="7.2" height="42.7" fill="#d27a84" stroke="#d63e5c" stroke-width="0.6"/>
<rect x="477.97" y="380.6" width="7.2" height="43" fill="#888888" stroke="#4a4a4a" stroke-width="0.6"/>
<rect x="490.3" y="382.7" width="7.2" height="40.9" fill="#d27a84" stroke="#d63e5c" stroke-width="0.6"/>
<rect x="502.62" y="385.2" width="7.2" height="38.4" fill="#888888" stroke="#4a4a4a" stroke-width="0.6"/>
<rect x="514.94" y="389.4" width="7.2" height="34.2" fill="#888888" stroke="#4a4a4a" stroke-width="0.6"/>
<rect x="527.27" y="388.7" width="7.2" height="34.9" fill="#888888" stroke="#4a4a4a" stroke-width="0.6"/>
<rect x="539.59" y="387.2" width="7.2" height="36.4" fill="#888888" stroke="#4a4a4a" stroke-width="0.6"/>
<rect x="551.91" y="392.4" width="7.2" height="31.2" fill="#888888" stroke="#4a4a4a" stroke-width="0.6"/>
<rect x="564.24" y="396.7" width="7.2" height="26.9" fill="#d27a84" stroke="#d63e5c" stroke-width="0.6"/>
<rect x="576.56" y="397.4" width="7.2" height="26.2" fill="#888888" stroke="#4a4a4a" stroke-width="0.6"/>
<rect x="588.88" y="396.4" width="7.2" height="27.2" fill="#d27a84" stroke="#d63e5c" stroke-width="0.6"/>
<rect x="601.2" y="386.2" width="7.2" height="37.4" fill="#d27a84" stroke="#d63e5c" stroke-width="0.6"/>
<rect x="613.53" y="400.2" width="7.2" height="23.4" fill="#d27a84" stroke="#d63e5c" stroke-width="0.6"/>
<rect x="625.85" y="398.4" width="7.2" height="25.2" fill="#888888" stroke="#4a4a4a" stroke-width="0.6"/>
<rect x="638.17" y="397.7" width="7.2" height="25.9" fill="#d27a84" stroke="#d63e5c" stroke-width="0.6"/>
<rect x="650.5" y="388.9" width="7.2" height="34.7" fill="#888888" stroke="#4a4a4a" stroke-width="0.6"/>
<path d="M8.9 330.4 V328.2 H9.7 V330.4 M10 330.4 V327.2 H10.8 V330.4 M11.1 330.4 V328.8 H11.9 V330.4" fill="#444" stroke="none"/>
<text x="13.3" y="330.4" transform="rotate(0.03 13.3 330.4)" class="m" style="font-size:4.6px">Volume 1,284,321,792</text>
<path d="M659.6 328.6 h1.2" stroke="#bbb" stroke-width="0.5"/>
<text x="662.1" y="329.85" transform="rotate(0.03 662.1 329.85)" style="font-size:4.2px">3.50B</text>
<path d="M659.6 335.4 h1.2" stroke="#bbb" stroke-width="0.5"/>
<text x="662.1" y="336.65" transform="rotate(0.03 662.1 336.65)" style="font-size:4.2px">3.25B</text>
<path d="M659.6 342.2 h1.2" stroke="#bbb" stroke-width="0.5"/>
<text x="662.1" y="343.45" transform="rotate(0.03 662.1 343.45)" style="font-size:4.2px">3.00B</text>
<path d="M659.6 349 h1.2" stroke="#bbb" stroke-width="0.5"/>
<text x="662.1" y="350.25" transform="rotate(0.03 662.1 350.25)" style="font-size:4.2px">2.75B</text>
<path d="M659.6 355.8 h1.2" stroke="#bbb" stroke-width="0.5"/>
<text x="662.1" y="357.05" transform="rotate(0.03 662.1 357.05)" style="font-size:4.2px">2.50B</text>
<path d="M659.6 362.6 h1.2" stroke="#bbb" stroke-width="0.5"/>
<text x="662.1" y="363.85" transform="rotate(0.03 662.1 363.85)" style="font-size:4.2px">2.25B</text>
<path d="M659.6 369.4 h1.2" stroke="#bbb" stroke-width="0.5"/>
<text x="662.1" y="370.65" transform="rotate(0.03 662.1 370.65)" style="font-size:4.2px">2.00B</text>
<path d="M659.6 376.2 h1.2" stroke="#bbb" stroke-width="0.5"/>
<text x="662.1" y="377.45" transform="rotate(0.03 662.1 377.45)" style="font-size:4.2px">1.75B</text>
<path d="M659.6 383 h1.2" stroke="#bbb" stroke-width="0.5"/>
<text x="662.1" y="384.25" transform="rotate(0.03 662.1 384.25)" style="font-size:4.2px">1.50B</text>
<path d="M659.6 396.6 h1.2" stroke="#bbb" stroke-width="0.5"/>
<text x="662.1" y="397.85" transform="rotate(0.03 662.1 397.85)" style="font-size:4.2px">1.00B</text>
<path d="M659.6 403.4 h1.2" stroke="#bbb" stroke-width="0.5"/>
<text x="662.1" y="404.65" transform="rotate(0.03 662.1 404.65)" style="font-size:4.2px">750M</text>
<path d="M659.6 410.2 h1.2" stroke="#bbb" stroke-width="0.5"/>
<text x="662.1" y="411.45" transform="rotate(0.03 662.1 411.45)" style="font-size:4.2px">500M</text>
<path d="M659.6 417 h1.2" stroke="#bbb" stroke-width="0.5"/>
<text x="662.1" y="418.25" transform="rotate(0.03 662.1 418.25)" style="font-size:4.2px">250M</text>
<rect x="659" y="386.67" width="22" height="4.4" rx="1.8" ry="1.8" fill="#fff" stroke="#333" stroke-width="0.7"/>
<text x="660.9" y="390.12" transform="rotate(0.03 660.9 390.12)" style="font-size:3.5px">1284321792</text>
</svg></body></html>
